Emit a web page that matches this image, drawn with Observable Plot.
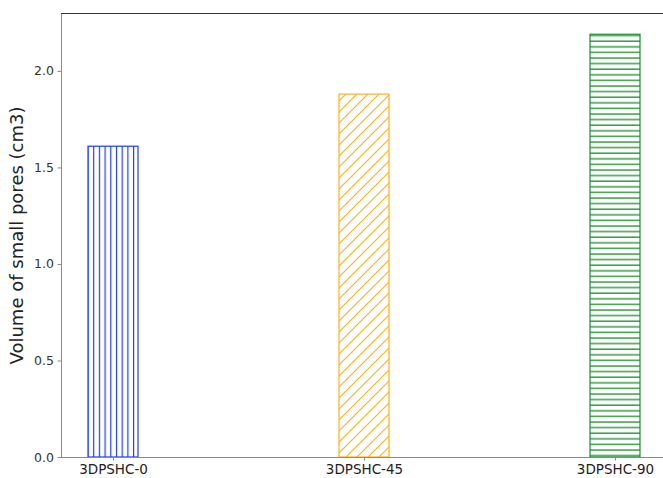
<!DOCTYPE html>
<html><head><meta charset="utf-8">
<script src="https://cdn.jsdelivr.net/npm/d3@7"></script>
<script src="https://cdn.jsdelivr.net/npm/@observablehq/plot@0.6"></script>
<style>
html,body{margin:0;padding:0;background:#fff;overflow:hidden;width:663px;height:478px}
#chart svg{display:block}
</style></head><body><div id="chart"></div>
<script>
const categories = ["3DPSHC-0", "3DPSHC-45", "3DPSHC-90"];
const volumes = [1.61, 1.88, 2.19];
const colors = ["#1f3cf5", "#ffb01f", "#1a8f2a"];
const hatches = ["vertical", "diagonal", "horizontal"];
const yTicks = [0, 0.5, 1.0, 1.5, 2.0];
const yLabel = "Volume of small pores (cm3)";

const data = categories.map((c, i) => ({category: c, value: volumes[i], color: colors[i], hatch: hatches[i]}));

const plot = Plot.plot({
  width: 663, height: 478,
  marginLeft: 61, marginRight: 0, marginTop: 13, marginBottom: 21,
  style: {fontFamily: "'DejaVu Sans', sans-serif", background: "white", overflow: "hidden"},
  x: {type: "band", domain: categories, range: [61, 668], paddingInner: 0.8, paddingOuter: 0.109, align: 0.5},
  y: {domain: [0, 2.3]},
  marks: [
    ...data.map(d => Plot.barY([d], {x: "category", y: "value", fill: `url(#hatch-${d.hatch})`, stroke: d.color, strokeWidth: 1.2})),
    Plot.frame({anchor: "left", stroke: "#8a8a8a"}),
    Plot.frame({anchor: "bottom", stroke: "#8a8a8a"}),
    Plot.frame({anchor: "top", stroke: "#333"}),
    Plot.axisX({tickSize: 3.5, tickPadding: 3, fontSize: 13.5, label: null, stroke: "#8a8a8a", fill: "#222"}),
    Plot.axisY({ticks: yTicks, tickFormat: d => d.toFixed(1), tickSize: 3.5, tickPadding: 4, fontSize: 12.5, label: null, stroke: "#8a8a8a", fill: "#333"}),
    Plot.text([yLabel], {frameAnchor: "left", rotate: -90, dx: -44, textAnchor: "middle", fontSize: 18, fill: "#222"})
  ]
});

const svg = d3.select(plot);
const defs = svg.insert("defs", ":first-child");
const pv = defs.append("pattern").attr("id", "hatch-vertical").attr("patternUnits", "userSpaceOnUse")
  .attr("width", 5.7).attr("height", 10).attr("x", 1);
pv.append("rect").attr("width", 5.7).attr("height", 10).attr("fill", "white");
pv.append("line").attr("x1", 1.5).attr("x2", 1.5).attr("y1", 0).attr("y2", 10).attr("stroke", colors[0]).attr("stroke-width", 1.2);

const ph = defs.append("pattern").attr("id", "hatch-horizontal").attr("patternUnits", "userSpaceOnUse")
  .attr("width", 10).attr("height", 5.6);
ph.append("rect").attr("width", 10).attr("height", 5.6).attr("fill", "white");
ph.append("line").attr("x1", 0).attr("x2", 10).attr("y1", 2).attr("y2", 2).attr("stroke", colors[2]).attr("stroke-width", 1.3);

const pd = defs.append("pattern").attr("id", "hatch-diagonal").attr("patternUnits", "userSpaceOnUse")
  .attr("width", 11).attr("height", 11);
pd.append("rect").attr("width", 11).attr("height", 11).attr("fill", "white");
pd.append("path").attr("d", "M0,11L11,0M-2,2L2,-2M9,13L13,9").attr("stroke", colors[1]).attr("stroke-width", 1.1).attr("fill", "none");

document.getElementById("chart").appendChild(plot);
</script>
</body></html>
